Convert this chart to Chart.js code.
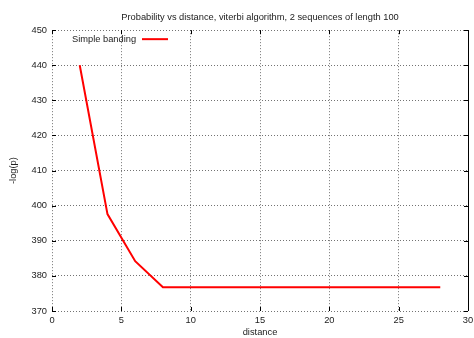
<!DOCTYPE html>
<html>
<head>
<meta charset="utf-8">
<script src="https://cdn.jsdelivr.net/npm/chart.js@4/dist/chart.umd.min.js"></script>
<style>
  html, body { margin: 0; padding: 0; background: #fff; }
  #wrap { width: 474px; height: 338px; }
</style>
</head>
<body>
<div id="wrap"><canvas id="chartViterbi"></canvas></div>
<script>
// data
const distance = [2, 4, 6, 8, 10, 12, 14, 16, 18, 20, 22, 24, 26, 28];
const logP = [440, 397.6, 384.2, 376.8, 376.8, 376.8, 376.8, 376.8, 376.8, 376.8, 376.8, 376.8, 376.8, 376.8];
const xTicks = [0, 5, 10, 15, 20, 25, 30];
const yTicks = [370, 380, 390, 400, 410, 420, 430, 440, 450];

const FONT = "'Liberation Sans', Arial, sans-serif";
const SIZE = 9.3;

// gnuplot style: inward tick marks, solid right border, legend inside
const gnuplotBits = {
  id: "gnuplotBits",
  afterDraw(chart) {
    const c = chart.ctx;
    const a = chart.chartArea;
    const xs = chart.scales.x;
    const ys = chart.scales.y;
    const len = 4;
    c.save();
    c.strokeStyle = "#000";
    c.lineWidth = 1;
    c.beginPath();
    xTicks.forEach((v) => {
      const px = Math.round(xs.getPixelForValue(v)) + 0.5;
      c.moveTo(px, a.bottom); c.lineTo(px, a.bottom - len);
      c.moveTo(px, a.top); c.lineTo(px, a.top + len);
    });
    yTicks.forEach((v) => {
      const py = Math.round(ys.getPixelForValue(v)) + 0.5;
      c.moveTo(a.left, py); c.lineTo(a.left + len, py);
      c.moveTo(a.right, py); c.lineTo(a.right - len, py);
    });
    const rx = Math.round(a.right) + 0.5;
    c.moveTo(rx, a.top); c.lineTo(rx, a.bottom);
    c.stroke();

    // legend
    const ds = chart.data.datasets[0];
    c.font = SIZE + "px " + FONT;
    c.fillStyle = "#222";
    c.textBaseline = "middle";
    c.textAlign = "left";
    c.fillText(ds.label, a.left + 20, a.top + 9);
    c.strokeStyle = ds.borderColor;
    c.lineWidth = 2;
    c.beginPath();
    c.moveTo(a.left + 90, a.top + 9);
    c.lineTo(a.left + 116, a.top + 9);
    c.stroke();
    c.restore();
  },
};

const ctx = document.getElementById("chartViterbi").getContext("2d");
new Chart(ctx, {
  type: "line",
  data: {
    datasets: [
      {
        label: "Simple banding",
        data: distance.map((d, i) => ({ x: d, y: logP[i] })),
        borderColor: "#ff0000",
        borderWidth: 2,
        pointRadius: 0,
        tension: 0,
        fill: false,
      },
    ],
  },
  options: {
    responsive: true,
    maintainAspectRatio: false,
    animation: false,
    layout: { autoPadding: false, padding: { left: 0, right: 6, top: 7, bottom: 0 } },
    plugins: {
      legend: { display: false },
      tooltip: { enabled: false },
      title: {
        display: true,
        fullSize: false,
        text: "Probability vs distance, viterbi algorithm, 2 sequences of length 100",
        color: "#222",
        font: { family: FONT, size: SIZE, weight: "normal" },
        padding: { top: 5, bottom: 7 },
      },
    },
    scales: {
      x: {
        type: "linear",
        min: 0,
        max: 30,
        afterBuildTicks: (s) => { s.ticks = xTicks.map((v) => ({ value: v })); },
        afterFit: (s) => { s.height = 27; s.paddingLeft = 0; s.paddingRight = 0; },
        ticks: { color: "#222", padding: 4, font: { family: FONT, size: SIZE } },
        grid: { color: "rgba(0,0,0,0.55)", drawTicks: false },
        border: { display: false, dash: [1, 2] },
        title: {
          display: true,
          text: "distance",
          color: "#222",
          font: { family: FONT, size: SIZE },
          padding: { top: 3, bottom: 0 },
        },
      },
      y: {
        min: 370,
        max: 450,
        afterBuildTicks: (s) => { s.ticks = yTicks.map((v) => ({ value: v })); },
        afterFit: (s) => { s.width = 52; s.paddingTop = 0; s.paddingBottom = 0; },
        ticks: { color: "#222", padding: 5, font: { family: FONT, size: SIZE } },
        grid: { color: "rgba(0,0,0,0.55)", drawTicks: false },
        border: { display: false, dash: [1, 2] },
        title: {
          display: true,
          text: "-log(p)",
          color: "#222",
          font: { family: FONT, size: SIZE },
          padding: { top: 8, bottom: 0 },
        },
      },
    },
  },
  plugins: [gnuplotBits],
});
</script>
</body>
</html>
